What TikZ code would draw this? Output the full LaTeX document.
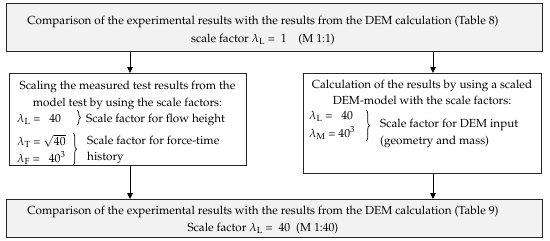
\documentclass[tikz,border=0pt]{standalone}
\usepackage[T1]{fontenc}
\usepackage{mathpazo}
\usetikzlibrary{arrows.meta,decorations.pathreplacing}
\begin{document}
\begin{tikzpicture}[x=1pt,y=-1pt,
  box/.style={draw=black!85,line width=1.1pt,rectangle,inner sep=0pt,anchor=north west},
  graybox/.style={box,fill=black!5},
  txt/.style={inner sep=0pt,anchor=base,font=\fontsize{11.7}{13}\selectfont},
  ltxt/.style={txt,anchor=base west},
  arr/.style={draw=black,line width=0.8pt,-{Triangle[length=6pt,width=5.5pt]}},
  brc/.style={decorate,decoration={brace,amplitude=3.5pt},line width=0.7pt}]
\useasboundingbox (0,0) rectangle (550,241);
% boxes
\node[graybox,minimum width=536pt,minimum height=48pt] (top) at (5.5,3) {};
\node[box,minimum width=237pt,minimum height=92pt] (lbox) at (9,73) {};
\node[box,minimum width=238pt,minimum height=100pt] (rbox) at (303,73) {};
\node[graybox,minimum width=536pt,minimum height=38pt] (bot) at (5.5,199) {};
% arrows
\coordinate (ax) at (130,0);
\coordinate (bx) at (433,0);
\draw[arr] (top.south -| ax) -- (lbox.north -| ax);
\draw[arr] (top.south -| bx) -- (rbox.north -| bx);
\draw[arr] (lbox.south -| ax) -- (bot.north -| ax);
\draw[arr] (rbox.south -| bx) -- (bot.north -| bx);
% top text
\node[txt] (t1) at (263,24) {Comparison of the experimental results with the results from the DEM calculation (Table 8)};
\node[txt] (t2) at (263,42) {scale factor $\lambda_{\mathrm{L}}$ =\enspace1\quad(M 1:1)};
% left text
\node[txt] (l1) at (127.5,89) {Scaling the measured test results from the};
\node[txt] (l2) at (127.5,106) {model test by using the scale factors:};
\node[ltxt] (l3) at (17,122) {$\lambda_{\mathrm{L}}$ = \enspace40};
\node[ltxt] (l4) at (17,145.5) {$\lambda_{\mathrm{T}}$ = $\sqrt{40}$};
\node[ltxt] (l5) at (17,162) {$\lambda_{\mathrm{F}}$ = \enspace$40^3$};
\node[ltxt] (l6) at (86,122) {Scale factor for flow height};
\node[ltxt] (l7) at (87,144) {Scale factor for force-time};
\node[ltxt] (l8) at (87,160) {history};
\coordinate (b1a) at (77,110);
\coordinate (b1b) at (77,125);
\draw[brc] (b1a) -- (b1b);
\coordinate (b2a) at (73,133);
\coordinate (b2b) at (73,165);
\draw[brc] (b2a) -- (b2b);
% right text
\node[txt] (r1) at (422,88) {Calculation of the results by using a scaled};
\node[txt] (r2) at (422,104) {DEM-model with the scale factors:};
\node[ltxt] (r3) at (309,119) {$\lambda_{\mathrm{L}}$ = \enspace40};
\node[ltxt] (r4) at (309,137) {$\lambda_{\mathrm{M}}$ = $40^3$};
\node[ltxt] (r5) at (380,127) {Scale factor for DEM input};
\node[ltxt] (r6) at (380,144) {(geometry and mass)};
\coordinate (b3a) at (366,110);
\coordinate (b3b) at (366,141);
\draw[brc] (b3a) -- (b3b);
% bottom text
\node[txt] (m1) at (263,214) {Comparison of the experimental results with the results from the DEM calculation (Table 9)};
\node[txt] (m2) at (263,231) {Scale factor $\lambda_{\mathrm{L}}$ =\enspace40\enspace(M 1:40)};
\end{tikzpicture}
\end{document}
